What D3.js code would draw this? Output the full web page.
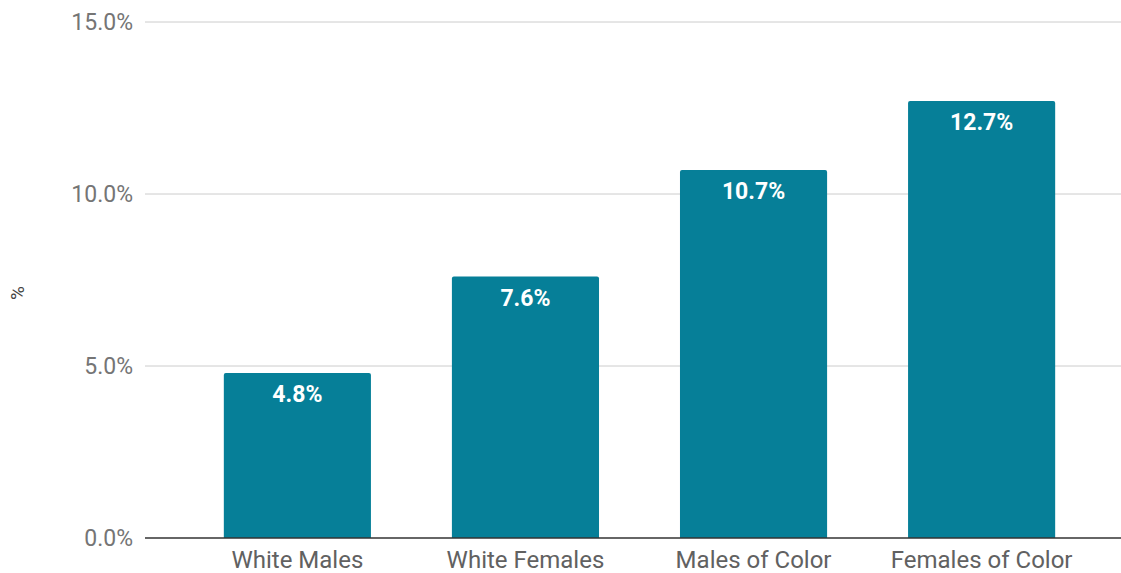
<!DOCTYPE html>
<html><head><meta charset="utf-8">
<script src="https://cdn.jsdelivr.net/npm/d3@7"></script>
<style>body{margin:0;background:#fff}svg{display:block;font-family:Roboto,sans-serif}</style>
</head><body><svg id="c" width="1121" height="573"></svg>
<script>
const categories = ["White Males","White Females","Males of Color","Females of Color"];
const values = [4.8, 7.6, 10.7, 12.7];
const yTicks = [0, 5, 10, 15];
const yTitle = "%";

const svg = d3.select("#c");
const W = 1121;
const y = d3.scaleLinear().domain([0,15]).range([538,22]);
const x = d3.scaleBand().domain(categories).range([144,1135]).paddingInner(0.355).paddingOuter(0.35);

// gridlines
svg.append("g").selectAll("line").data(yTicks.filter(d=>d>0)).join("line")
  .attr("x1",145).attr("x2",W).attr("y1",d=>y(d)).attr("y2",d=>y(d))
  .attr("stroke","#cccccc").attr("stroke-width",1);

// y axis labels
const yAxis = d3.axisLeft(y).tickValues(yTicks).tickFormat(d=>d.toFixed(1)+"%").tickSize(0).tickPadding(0);
const ya = svg.append("g").attr("transform","translate(133,0)").call(yAxis);
ya.select(".domain").remove();
ya.selectAll("text").attr("fill","#757575").attr("font-size",23).attr("font-family","Roboto").attr("dy","0.34em");

// bars
const r = 2;
svg.append("g").selectAll("path").data(values).join("path")
  .attr("d",(d,i)=>{
    const x0 = x(categories[i]), x1 = x0 + x.bandwidth(), y0 = y(0), y1 = y(d);
    return `M${x0},${y0}V${y1+r}Q${x0},${y1} ${x0+r},${y1}H${x1-r}Q${x1},${y1} ${x1},${y1+r}V${y0}Z`;
  })
  .attr("fill","#067f98");

// value labels
svg.append("g").selectAll("text").data(values).join("text")
  .attr("x",(d,i)=>x(categories[i])+x.bandwidth()/2)
  .attr("y",d=>y(d)+29)
  .attr("text-anchor","middle").attr("fill","#ffffff")
  .attr("font-size",23).attr("font-weight","bold")
  .text(d=>d.toFixed(1)+"%");

// baseline
svg.append("line").attr("x1",145).attr("x2",W).attr("y1",y(0)).attr("y2",y(0))
  .attr("stroke","#333333").attr("stroke-width",1.5);

// x axis labels
const xAxis = d3.axisBottom(x).tickSize(0).tickPadding(0);
const xa = svg.append("g").attr("transform","translate(0,568)").call(xAxis);
xa.select(".domain").remove();
xa.selectAll("text").attr("fill","#616161").attr("font-size",24).attr("font-family","Roboto").attr("dy","0");

// y title
svg.append("text").attr("transform","translate(24,293) rotate(-90)")
  .attr("text-anchor","middle").attr("fill","#444").attr("font-size",19).text(yTitle);
</script></body></html>
